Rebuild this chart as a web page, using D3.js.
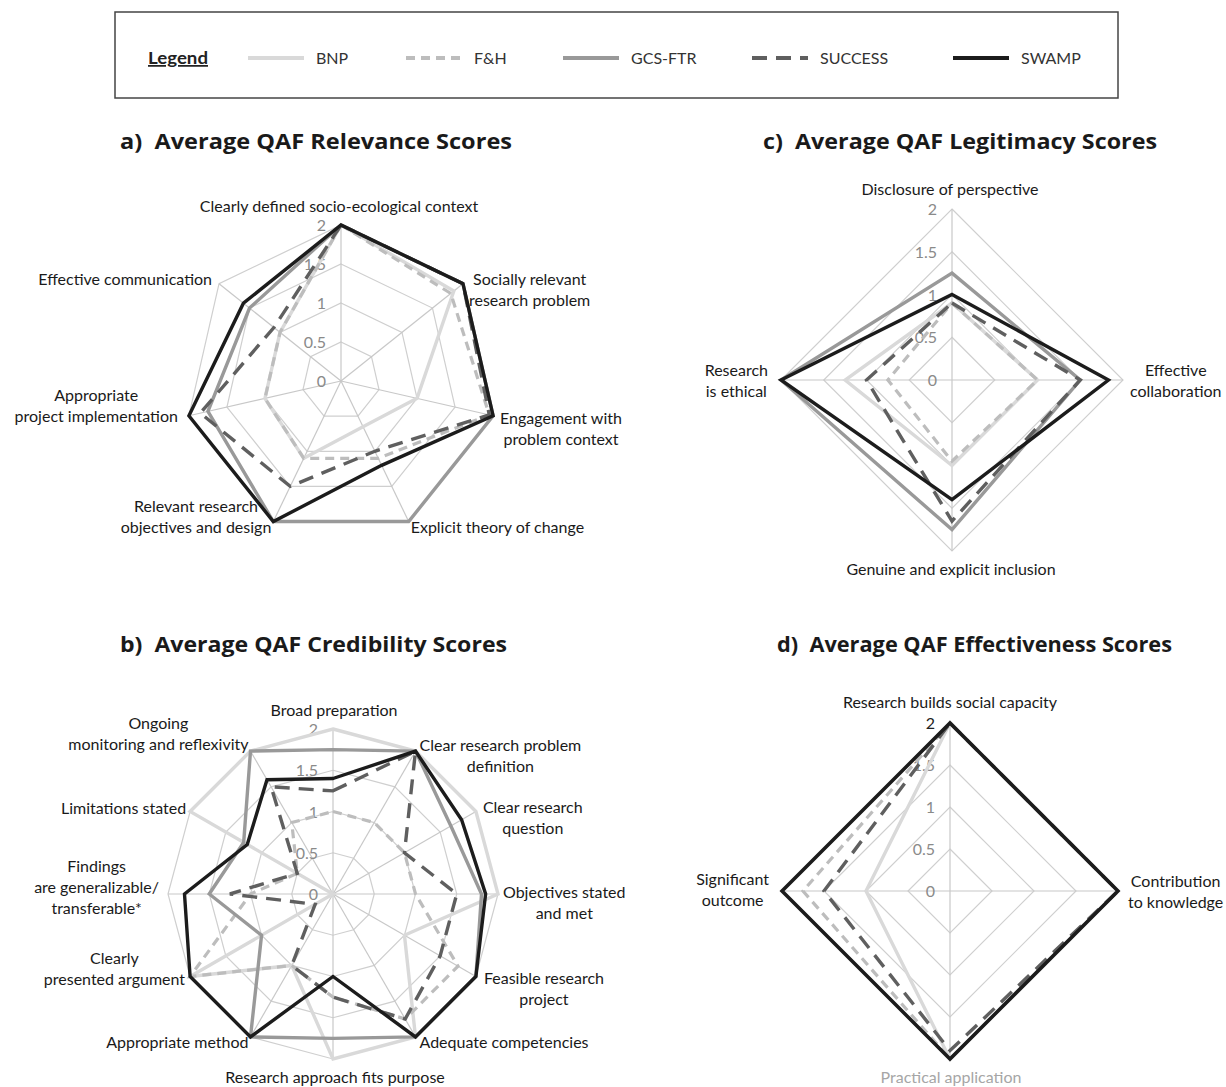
<!DOCTYPE html>
<html>
<head>
<meta charset="utf-8">
<script src="https://cdn.jsdelivr.net/npm/d3@7"></script>
<style>
  body { margin: 0; background: #ffffff; }
  text { font-family: Lato, "Liberation Sans", sans-serif; }
  .title { font-family: "Open Sans", Lato, sans-serif; white-space: pre; }
</style>
</head>
<body>
<svg id="chart" width="1226" height="1087"></svg>
<script>
// ---- Data -------------------------------------------------------------
const seriesNames = ["BNP", "F&H", "GCS-FTR", "SUCCESS", "SWAMP"];
const tickValues = [0, 0.5, 1, 1.5, 2];
const tickLabels = ["0", "0.5", "1", "1.5", "2"];

// a) Relevance
const relevanceAxes = [
  "Clearly defined socio-ecological context",
  "Socially relevant\nresearch problem",
  "Engagement with\nproblem context",
  "Explicit theory of change",
  "Relevant research\nobjectives and design",
  "Appropriate\nproject implementation",
  "Effective communication"
];
const relevanceBNP     = [2, 1.85, 1.0, 0.65, 1.1, 1.0, 1.0];
const relevanceFH      = [2, 1.8, 1.95, 1.1, 1.1, 1.0, 1.0];
const relevanceGCS     = [2, 2, 2, 2, 2, 1.75, 1.5];
const relevanceSUCCESS = [2, 2, 1.95, 1.0, 1.5, 1.85, 1.1];
const relevanceSWAMP   = [2, 2, 2, 1.2, 2, 2, 1.6];

// b) Credibility
const credibilityAxes = [
  "Broad preparation",
  "Clear research problem\ndefinition",
  "Clear research\nquestion",
  "Objectives stated\nand met",
  "Feasible research\nproject",
  "Adequate competencies",
  "Research approach fits purpose",
  "Appropriate method",
  "Clearly\npresented argument",
  "Findings\nare generalizable/\ntransferable*",
  "Limitations stated",
  "Ongoing\nmonitoring and reflexivity"
];
const credibilityBNP     = [2, 2, 2, 2, 1.0, 2, 2, 1.0, 2, 0, 2, 2];
const credibilityFH      = [1.0, 1.0, 1.0, 1.0, 1.75, 1.75, 1.25, 1.0, 2, 1.0, 0.5, 1.0];
const credibilityGCS     = [1.75, 2, 1.65, 1.8, 2, 2, 1.75, 2, 1.0, 1.5, 1.25, 2];
const credibilitySUCCESS = [1.25, 2, 1.0, 1.5, 1.5, 1.75, 1.25, 1.0, 0.25, 1.25, 0.5, 1.5];
const credibilitySWAMP   = [1.4, 2, 1.8, 1.85, 2, 2, 1.0, 2, 2, 1.8, 1.2, 1.6];

// c) Legitimacy
const legitimacyAxes = [
  "Disclosure of perspective",
  "Effective\ncollaboration",
  "Genuine and explicit inclusion",
  "Research\nis ethical"
];
const legitimacyBNP     = [0.9, 1.0, 1.0, 1.25];
const legitimacyFH      = [0.9, 1.0, 0.95, 0.75];
const legitimacyGCS     = [1.25, 1.5, 1.75, 2];
const legitimacySUCCESS = [0.9, 1.5, 1.65, 1.0];
const legitimacySWAMP   = [1.0, 1.83, 1.4, 2];

// d) Effectiveness
const effectivenessAxes = [
  "Research builds social capacity",
  "Contribution\nto knowledge",
  "Practical application",
  "Significant\noutcome"
];
const effectivenessBNP     = [2, 2, 2, 1.0];
const effectivenessFH      = [2, 2, 2, 1.75];
const effectivenessGCS     = [2, 2, 2, 2];
const effectivenessSUCCESS = [2, 2, 1.9, 1.5];
const effectivenessSWAMP   = [2, 2, 2, 2];

// ---- Styles -----------------------------------------------------------
const seriesStyle = {
  "BNP":     { color: "#d9d9d9", dash: null,   width: 3.4 },
  "F&H":     { color: "#bdbdbd", dash: "9,6",  width: 3.2 },
  "GCS-FTR": { color: "#999999", dash: null,   width: 3.4 },
  "SUCCESS": { color: "#5f5f5f", dash: "15,9", width: 3.4 },
  "SWAMP":   { color: "#1c1c1c", dash: null,   width: 3.4 }
};

// ---- Panels -----------------------------------------------------------
// label placement: [anchor, dx, dy] relative to the outer vertex of each axis
const panels = [
  {
    title: "a)  Average QAF Relevance Scores", tx: 120, ty: 149, tw: 392,
    cx: 341, cy: 381, r: 156,
    axes: relevanceAxes,
    values: [relevanceBNP, relevanceFH, relevanceGCS, relevanceSUCCESS, relevanceSWAMP],
    labelPos: [["middle", -2, -19], ["start", 6, 6], ["start", 7, 13], ["start", 2, 6],
               ["end", -2, -5], ["end", -11, -10], ["end", -7, -4]],
    twoDark: false
  },
  {
    title: "b)  Average QAF Credibility Scores", tx: 120, ty: 652, tw: 387,
    cx: 333, cy: 894, r: 165,
    axes: credibilityAxes,
    values: [credibilityBNP, credibilityFH, credibilityGCS, credibilitySUCCESS, credibilitySWAMP],
    labelPos: [["middle", 1, -19], ["start", 4, 5], ["start", 7, 6], ["start", 5, 9],
               ["start", 8, 12], ["start", 4, 6], ["middle", 2, 18], ["end", -2, 6],
               ["end", -5, -8], ["end", -9, -7], ["end", -4, -3], ["end", -2, -17]],
    twoDark: false
  },
  {
    title: "c)  Average QAF Legitimacy Scores", tx: 763, ty: 149, tw: 394,
    cx: 952, cy: 380, r: 171,
    axes: legitimacyAxes,
    values: [legitimacyBNP, legitimacyFH, legitimacyGCS, legitimacySUCCESS, legitimacySWAMP],
    labelPos: [["middle", -2, -20], ["start", 7, 1], ["middle", -1, 18], ["end", -13, 1]],
    twoDark: false
  },
  {
    title: "d)  Average QAF Effectiveness Scores", tx: 777, ty: 652, tw: 395,
    cx: 950, cy: 891, r: 168,
    axes: effectivenessAxes,
    values: [effectivenessBNP, effectivenessFH, effectivenessGCS, effectivenessSUCCESS, effectivenessSWAMP],
    labelPos: [["middle", 0, -21], ["start", 10, 1], ["middle", 1, 18], ["end", -13, -1]],
    twoDark: true,
    lightLabel: 2
  }
];

const svg = d3.select("#chart");
svg.append("rect").attr("width", 1226).attr("height", 1087).attr("fill", "#ffffff");

// ---- Legend -----------------------------------------------------------
const legend = svg.append("g");
legend.append("rect")
  .attr("x", 115).attr("y", 12).attr("width", 1003).attr("height", 86)
  .attr("fill", "none").attr("stroke", "#444").attr("stroke-width", 1.5);
legend.append("text")
  .attr("x", 148).attr("y", 64)
  .attr("font-size", 17.5).attr("font-weight", "bold").attr("fill", "#222")
  .attr("text-decoration", "underline")
  .attr("textLength", 60).attr("lengthAdjust", "spacingAndGlyphs")
  .text("Legend");
const legendX = [248, 406, 563, 752, 953];
seriesNames.forEach((name, i) => {
  const st = seriesStyle[name];
  legend.append("line")
    .attr("x1", legendX[i]).attr("x2", legendX[i] + 56)
    .attr("y1", 58).attr("y2", 58)
    .attr("stroke", st.color).attr("stroke-width", 3.8)
    .attr("stroke-dasharray", st.dash);
  legend.append("text")
    .attr("x", legendX[i] + 68).attr("y", 64)
    .attr("font-size", 16).attr("fill", "#333")
    .text(name);
});

// ---- Radar panels -----------------------------------------------------
panels.forEach(p => {
  const g = svg.append("g").attr("transform", `translate(${p.cx},${p.cy})`);
  const n = p.axes.length;
  const angle = d3.scaleLinear().domain([0, n]).range([0, 2 * Math.PI]);
  const radius = d3.scaleLinear().domain([0, 2]).range([0, p.r]);
  const pt = (i, v) => [Math.sin(angle(i)) * radius(v), -Math.cos(angle(i)) * radius(v)];

  // title
  svg.append("text")
    .attr("class", "title")
    .attr("x", p.tx).attr("y", p.ty)
    .attr("xml:space", "preserve")
    .attr("font-size", 21).attr("font-weight", "bold").attr("fill", "#1a1a1a")
    .attr("textLength", p.tw).attr("lengthAdjust", "spacingAndGlyphs")
    .text(p.title);

  // grid rings
  tickValues.filter(t => t > 0).forEach(t => {
    g.append("path")
      .attr("d", d3.line()(d3.range(n).map(i => pt(i, t))) + "Z")
      .attr("fill", "none").attr("stroke", "#cfcfcf").attr("stroke-width", 1.2);
  });
  // spokes
  d3.range(n).forEach(i => {
    const [x, y] = pt(i, 2);
    g.append("line").attr("x1", 0).attr("y1", 0).attr("x2", x).attr("y2", y)
      .attr("stroke", "#c8c8c8").attr("stroke-width", 1.2);
  });

  // tick labels
  tickValues.forEach((t, k) => {
    g.append("text")
      .attr("x", -15).attr("y", -radius(t) + 6)
      .attr("text-anchor", "end")
      .attr("font-size", 16)
      .attr("fill", (p.twoDark && t === 2) ? "#222" : "#8a8a8a")
      .text(tickLabels[k]);
  });

  // series
  const radial = d3.lineRadial()
    .angle((d, i) => angle(i))
    .radius(d => radius(d))
    .curve(d3.curveLinearClosed);
  seriesNames.forEach((name, s) => {
    const st = seriesStyle[name];
    g.append("path")
      .attr("d", radial(p.values[s]))
      .attr("fill", "none")
      .attr("stroke", st.color)
      .attr("stroke-width", st.width)
      .attr("stroke-dasharray", st.dash)
      .attr("stroke-linejoin", "miter");
  });

  // axis labels
  p.axes.forEach((label, i) => {
    const [vx, vy] = pt(i, 2);
    const [anchor, dx, dy] = p.labelPos[i];
    const ax = vx + dx, ay = vy + dy;
    const lines = label.split("\n");
    const lh = 21;
    const lg = g.append("g");
    const texts = lines.map((ln, j) => lg.append("text")
      .attr("text-anchor", "middle")
      .attr("font-size", 16)
      .attr("fill", (p.lightLabel === i) ? "#a6a6a6" : "#1a1a1a")
      .attr("y", ay - (lines.length - 1) * lh / 2 + j * lh + 5.5)
      .text(ln));
    const w = d3.max(texts, t => t.node().getComputedTextLength());
    const centerX = anchor === "middle" ? ax : anchor === "start" ? ax + w / 2 : ax - w / 2;
    texts.forEach(t => t.attr("x", centerX));
  });
});
</script>
</body>
</html>
